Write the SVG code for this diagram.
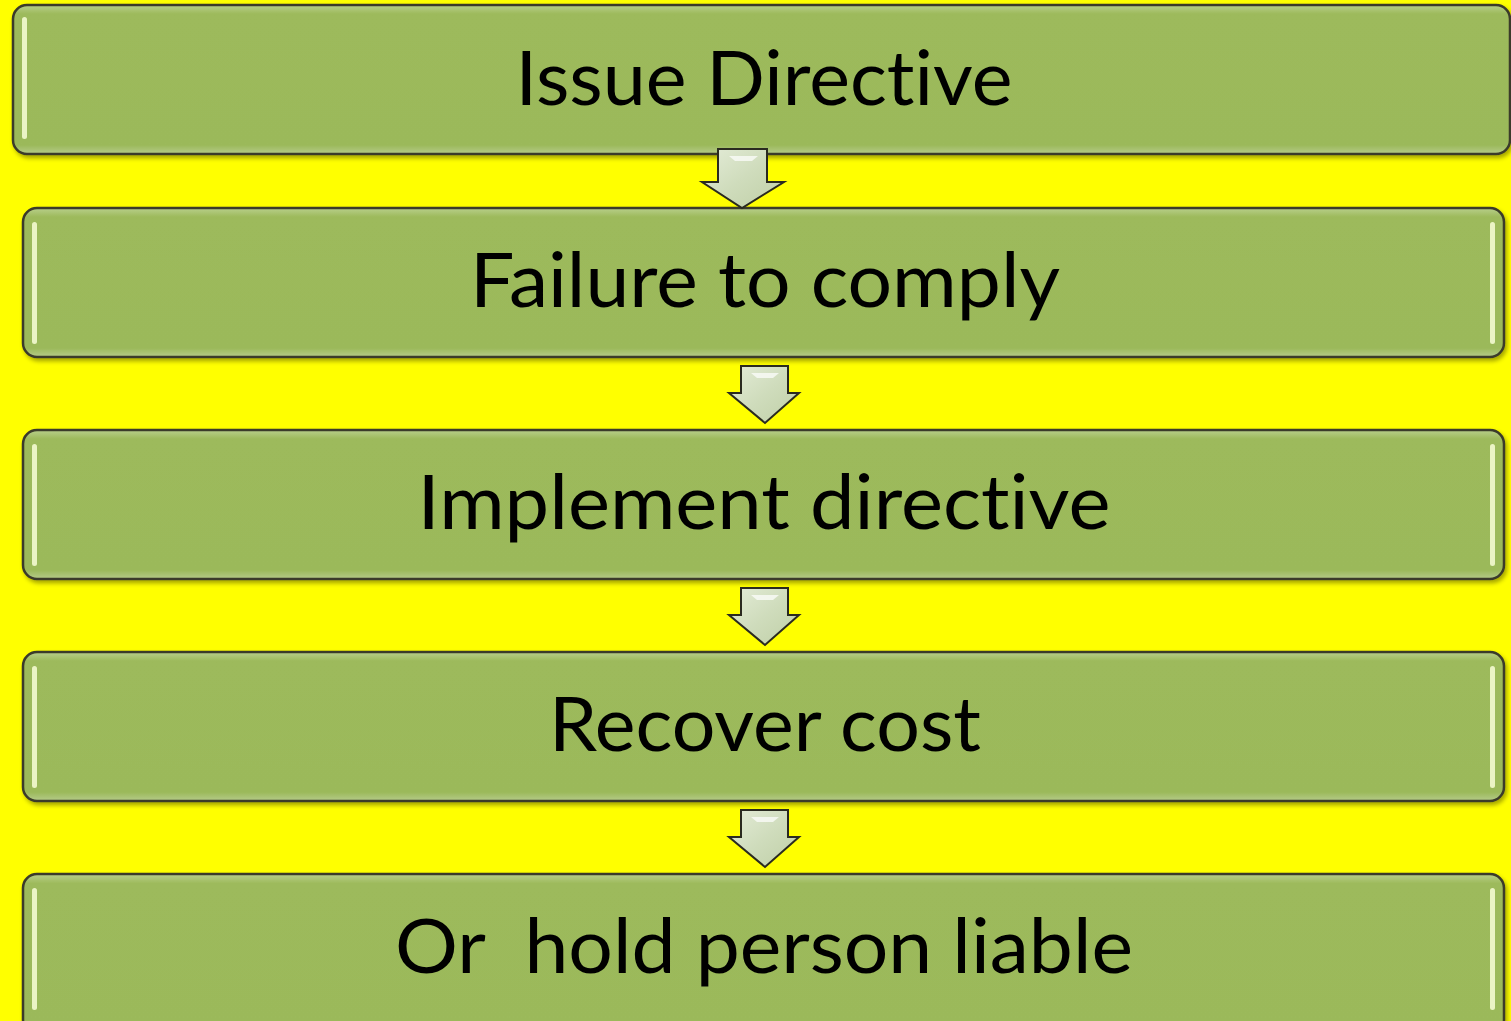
<svg xmlns="http://www.w3.org/2000/svg" width="1511" height="1021" viewBox="0 0 1511 1021">
<defs>
<linearGradient id="boxg" x1="0" y1="0" x2="0" y2="1">
<stop offset="0" stop-color="#b9cf8c"/>
<stop offset="0.06" stop-color="#9dba5b"/>
<stop offset="0.94" stop-color="#9bb95a"/>
<stop offset="1" stop-color="#b6cb8a"/>
</linearGradient>
<linearGradient id="arrg" x1="0" y1="0" x2="1" y2="1">
<stop offset="0" stop-color="#e4ecd8"/>
<stop offset="0.5" stop-color="#cfdcbc"/>
<stop offset="1" stop-color="#bfcfa6"/>
</linearGradient>
<filter id="sh" x="-5%" y="-10%" width="110%" height="125%">
<feDropShadow dx="2" dy="3" stdDeviation="2" flood-color="#000" flood-opacity="0.35"/>
</filter>
</defs>
<style>
.box{fill:url(#boxg);stroke:#3a3a2a;stroke-width:2.5;filter:url(#sh)}
.hl{fill:#f4fbd0;opacity:0.9}
.lbl{font-family:Lato,"Open Sans","Liberation Sans",sans-serif;font-size:76px;fill:#000;text-anchor:middle;font-variant-ligatures:none}
.arr{fill:url(#arrg);stroke:#2a2a20;stroke-width:2;stroke-linejoin:miter}
.gl{fill:#ffffff;opacity:0.7}
</style>
<rect width="1511" height="1021" fill="#ffff00"/>
<g id="n1">
<rect class="box" x="13" y="5" width="1497" height="149" rx="14"/>
<rect class="hl" x="22" y="17" width="5" height="122" rx="2.5"/>
<text class="lbl" x="764" y="105" textLength="497" lengthAdjust="spacingAndGlyphs">Issue Directive</text>
</g>
<g id="n2">
<rect class="box" x="23" y="208" width="1481" height="149" rx="14"/>
<rect class="hl" x="32" y="222" width="5" height="122" rx="2.5"/>
<rect class="hl" x="1490" y="222" width="5" height="122" rx="2.5"/>
<text class="lbl" x="765" y="307" textLength="590" lengthAdjust="spacingAndGlyphs">Failure to comply</text>
</g>
<g id="n3">
<rect class="box" x="23" y="430" width="1481" height="149" rx="14"/>
<rect class="hl" x="32" y="444" width="5" height="122" rx="2.5"/>
<rect class="hl" x="1490" y="444" width="5" height="122" rx="2.5"/>
<text class="lbl" x="764" y="529" textLength="693" lengthAdjust="spacingAndGlyphs">Implement directive</text>
</g>
<g id="n4">
<rect class="box" x="23" y="652" width="1481" height="149" rx="14"/>
<rect class="hl" x="32" y="666" width="5" height="122" rx="2.5"/>
<rect class="hl" x="1490" y="666" width="5" height="122" rx="2.5"/>
<text class="lbl" x="765" y="751" textLength="432" lengthAdjust="spacingAndGlyphs">Recover cost</text>
</g>
<g id="n5">
<rect class="box" x="23" y="874" width="1481" height="160" rx="14"/>
<rect class="hl" x="32" y="888" width="5" height="122" rx="2.5"/>
<rect class="hl" x="1490" y="888" width="5" height="122" rx="2.5"/>
<text class="lbl" x="764" y="973" textLength="738" lengthAdjust="spacingAndGlyphs" xml:space="preserve">Or  hold person liable</text>
</g>
<g id="connectors">
<g id="a1">
<path class="arr" d="M718,149 L767,149 L767,182 L784,182 L742,208 L702,182 L718,182 Z"/>
<path class="gl" d="M729,156 L758,156 L752,161 L735,161 Z"/>
</g>
<g id="a2">
<path class="arr" d="M741,366 L788,366 L788,393 L799,393 L765,423 L729,393 L741,393 Z"/>
<path class="gl" d="M751,373 L779,373 L773,378 L757,378 Z"/>
</g>
<g id="a3">
<path class="arr" d="M741,588 L788,588 L788,615 L799,615 L765,645 L729,615 L741,615 Z"/>
<path class="gl" d="M751,595 L779,595 L773,600 L757,600 Z"/>
</g>
<g id="a4">
<path class="arr" d="M741,810 L788,810 L788,837 L799,837 L765,867 L729,837 L741,837 Z"/>
<path class="gl" d="M751,817 L779,817 L773,822 L757,822 Z"/>
</g>
</g>
</svg>
